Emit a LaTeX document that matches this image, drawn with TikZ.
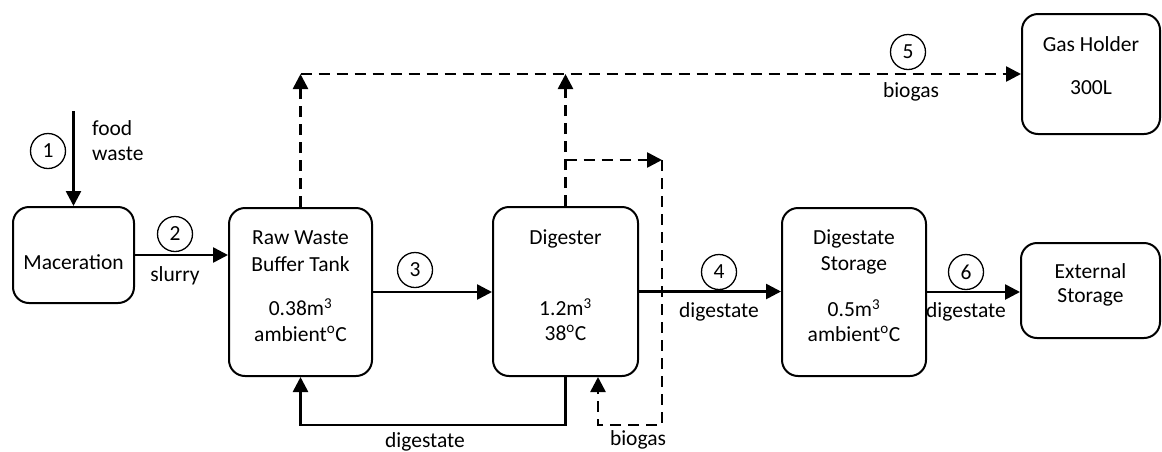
\documentclass[tikz,border=0pt]{standalone}
\usepackage{fontspec}
\setmainfont{Carlito}
\usetikzlibrary{arrows.meta}
\begin{document}
\begin{tikzpicture}[x=1pt,y=-1pt,
  box/.style={draw, line width=2pt, rounded corners=16pt, inner sep=0pt},
  lbl/.style={font=\fontsize{21.5}{25}\selectfont, inner sep=0pt, align=center},
  num/.style={draw, circle, line width=1.3pt, minimum size=35pt, inner sep=0pt, font=\fontsize{21.5}{25}\selectfont},
  flow/.style={line width=2.6pt, -{Triangle[length=15pt,width=15pt]}},
  gas/.style={flow, dash pattern=on 11pt off 7pt}]
\useasboundingbox (0,0) rectangle (1162,451);
% boxes
\node[box, minimum width=121pt, minimum height=96pt] (mac) at (73.5,255) {};
\node[box, minimum width=143pt, minimum height=168pt] (raw) at (300.5,292) {};
\node[box, minimum width=145pt, minimum height=169pt] (dig) at (565.5,291.5) {};
\node[box, minimum width=144pt, minimum height=168pt] (dst) at (854,292) {};
\node[box, minimum width=139pt, minimum height=95pt] (ext) at (1090.5,290.5) {};
\node[box, minimum width=138pt, minimum height=120pt] (gh) at (1091,74) {};
% box texts
\node[lbl] (macT) at (73.5,262) {Maceration};
\node[lbl] (rawA) at (300.5,238) {Raw Waste};
\node[lbl] (rawB) at (300.5,264) {Buffer Tank};
\node[lbl] (rawC) at (300.5,307) {0.38m\textsuperscript{3}};
\node[lbl] (rawD) at (300.5,334) {ambient\textsuperscript{o}C};
\node[lbl] (digA) at (565.5,239) {Digester};
\node[lbl] (digB) at (565.5,307) {1.2m\textsuperscript{3}};
\node[lbl] (digC) at (565.5,333) {38\textsuperscript{o}C};
\node[lbl] (dstA) at (854,239) {Digestate};
\node[lbl] (dstB) at (854,265) {Storage};
\node[lbl] (dstC) at (854,308) {0.5m\textsuperscript{3}};
\node[lbl] (dstD) at (854,334) {ambient\textsuperscript{o}C};
\node[lbl] (extA) at (1090.5,271) {External};
\node[lbl] (extB) at (1090.5,297) {Storage};
\node[lbl] (ghA) at (1091,44) {Gas Holder};
\node[lbl] (ghB) at (1091,88) {300L};
% numbers
\node[num] (n1) at (48,151) {1};
\node[num] (n2) at (175,234) {2};
\node[num] (n3) at (415,270) {3};
\node[num] (n4) at (719,272) {4};
\node[num] (n5) at (908,52) {5};
\node[num] (n6) at (966,272) {6};
% labels
\node[lbl, align=left, anchor=west] (fwT) at (92,141) {food\\waste};
\node[lbl] (slT) at (175,276) {slurry};
\node[lbl] (d4T) at (719,312) {digestate};
\node[lbl] (d6T) at (966,312) {digestate};
\node[lbl] (dbT) at (425,442) {digestate};
\node[lbl] (b5T) at (911,92) {biogas};
\node[lbl] (bbT) at (638,440) {biogas};
% coordinates
\coordinate (fw) at (73.5,111);
\coordinate (br) at (565.5,160);
\coordinate (rc) at (662,160);
\coordinate (rcb) at (662,425);
\coordinate (rcin) at (598,425);
% solid flows
\draw[flow] (fw) -- (fw |- mac.north);
\draw[flow] (mac.east) -- (mac.east -| raw.west);
\draw[flow] (raw.east) -- (raw.east -| dig.west);
\draw[flow] (dig.east) -- (dig.east -| dst.west);
\draw[flow] (dst.east) -- (dst.east -| ext.west);
\draw[flow] (dig.south) -- ++(0,48) -| (raw.south);
% gas flows
\draw[gas] (raw.north |- gh.west) -- (gh.west);
\draw[gas] (raw.north) -- (raw.north |- gh.west);
\draw[gas] (dig.north) -- (dig.north |- gh.west);
\draw[gas] (br) -- (rc);
\draw[gas] (rc) -- (rcb) -- (rcin) -- (rcin |- dig.south);
\end{tikzpicture}
\end{document}
